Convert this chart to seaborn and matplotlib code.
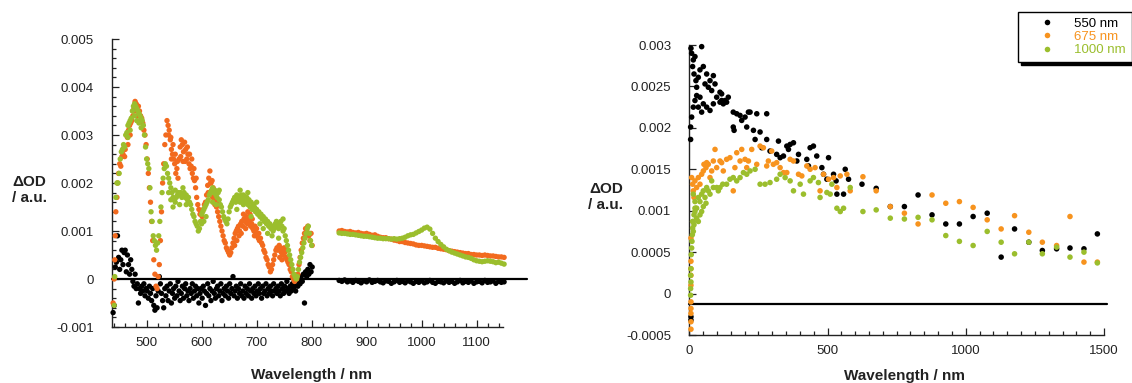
import matplotlib
matplotlib.use("Agg")
import matplotlib.pyplot as plt
import seaborn as sns
from matplotlib.lines import Line2D
from matplotlib.ticker import MultipleLocator

# ---------------- data (values in 1e-3 OD units) ----------------
left_black = [(439,-0.70),(441,-0.55),(443,0.25),(445,0.35),(447,0.90),(449,0.45),(451,0.20),(453,0.40),(455,0.60),(457,0.30),
 (459,0.55),(461,0.60),(463,0.15),(465,0.50),(467,0.30),(469,0.10),(471,0.40),(473,0.20),(475,-0.05),(477,-0.15),(479,0.10),
 (481,-0.20),(483,-0.10),(485,-0.50),(487,-0.20),(489,-0.30),(491,-0.15),(493,-0.25),(495,-0.10),(497,-0.35),(499,-0.20),
 (501,-0.25),(503,-0.40),(505,-0.15),(507,-0.30),(509,-0.45),(511,-0.20),(513,-0.55),(515,-0.65),(517,-0.35),(519,-0.60),
 (521,-0.25),(523,0.05),(525,-0.10),(527,-0.30),(529,-0.45),(531,-0.60),(533,-0.20),(535,-0.35),(537,-0.15),(539,-0.45),
 (541,-0.25),(543,-0.10),(545,-0.50),(547,-0.30),(549,-0.20),(551,-0.40),(553,-0.15),(555,-0.35),(557,-0.05),(559,-0.25),
 (561,-0.45),(563,-0.30),(565,-0.15),(567,-0.40),(569,-0.20),(571,-0.10),(573,-0.35),(575,-0.25),(577,-0.45),(579,-0.20),
 (581,-0.30),(583,-0.10),(585,-0.40),(587,-0.25),(589,-0.15),(591,-0.35),(593,-0.20),(595,-0.50),(597,-0.30),(599,-0.20),
 (601,-0.40),(603,-0.15),(605,-0.25),(607,-0.55),(609,-0.30),(611,-0.10),(613,-0.35),(615,-0.20),(617,-0.45),(619,-0.25),
 (621,-0.05),(623,-0.30),(625,-0.40),(627,-0.20),(629,-0.15),(631,-0.35),(633,-0.25),(635,-0.10),(637,-0.45),(639,-0.30),
 (641,-0.20),(643,-0.35),(645,-0.15),(647,-0.25),(649,-0.40),(651,-0.10),(653,-0.30),(655,-0.20),(657,0.05),(659,-0.35),
 (661,-0.25),(663,-0.15),(665,-0.40),(667,-0.20),(669,-0.30),(671,-0.10),(673,-0.35),(675,-0.25),(677,-0.40),(679,-0.15),
 (681,-0.30),(683,-0.20),(685,-0.35),(687,-0.10),(689,-0.25),(691,-0.40),(693,-0.20),(695,-0.30),(697,-0.15),(699,-0.35),
 (701,-0.25),(703,-0.10),(705,-0.30),(707,-0.20),(709,-0.40),(711,-0.15),(713,-0.30),(715,-0.25),(717,-0.10),(719,-0.35),
 (721,-0.20),(723,-0.30),(725,-0.15),(727,-0.25),(729,-0.35),(731,-0.10),(733,-0.25),(735,-0.20),(737,-0.30),(739,-0.15),
 (741,-0.25),(743,-0.35),(745,-0.10),(747,-0.20),(749,-0.30),(751,-0.15),(753,-0.25),(755,-0.05),(757,-0.20),(759,-0.30),
 (761,-0.15),(763,-0.25),(765,-0.10),(767,-0.20),(769,-0.15),(771,-0.25),(773,-0.05),(775,-0.15),(777,0.00),(779,-0.10),
 (781,0.05),(783,-0.05),(785,0.10),(787,-0.50),(789,0.15),(791,0.05),(793,0.20),(795,0.10),(797,0.30),(799,0.15),(801,0.25),
 (850,-0.03),(855,-0.05),(860,-0.02),(865,-0.06),(870,-0.04),(875,-0.07),(880,-0.03),(885,-0.05),(890,-0.08),(895,-0.04),
 (900,-0.06),(905,-0.02),(910,-0.07),(915,-0.05),(920,-0.03),(925,-0.06),(930,-0.08),(935,-0.04),(940,-0.05),(945,-0.09),
 (950,-0.06),(955,-0.03),(960,-0.07),(965,-0.05),(970,-0.08),(975,-0.04),(980,-0.06),(985,-0.09),(990,-0.05),(995,-0.07),
 (1000,-0.04),(1005,-0.08),(1010,-0.06),(1015,-0.03),(1020,-0.07),(1025,-0.09),(1030,-0.05),(1035,-0.06),(1040,-0.08),
 (1045,-0.04),(1050,-0.07),(1055,-0.05),(1060,-0.09),(1065,-0.06),(1070,-0.03),(1075,-0.08),(1080,-0.05),(1085,-0.07),
 (1090,-0.04),(1095,-0.09),(1100,-0.06),(1105,-0.05),(1110,-0.08),(1115,-0.03),(1120,-0.07),(1125,-0.06),(1130,-0.04),
 (1135,-0.09),(1140,-0.05),(1145,-0.07),(1150,-0.06)]

left_orange = [(439,-0.50),(441,0.00),(442,0.40),(443,0.90),(444,1.40),(446,1.70),(447,2.00),(449,2.20),(451,2.40),(453,2.35),
 (455,2.55),(457,2.60),(459,2.75),(461,2.70),(463,3.00),(465,2.95),(467,3.10),(469,3.20),(471,3.25),(473,3.30),(475,3.40),
 (477,3.55),(479,3.70),(481,3.65),(483,3.60),(485,3.60),(487,3.50),(489,3.40),(491,3.35),(493,3.25),(495,3.10),(497,3.00),
 (499,2.80),(501,2.50),(503,2.20),(505,1.90),(507,1.60),(509,1.20),(511,0.80),(513,0.40),(515,0.10),(517,-0.15),(519,-0.20),
 (521,0.05),(523,0.30),(525,0.80),(527,1.40),(529,2.00),(531,2.40),(533,2.80),(535,3.00),(537,3.30),(539,3.20),(541,3.10),
 (543,2.90),(545,2.70),(547,2.60),(549,2.50),(551,2.40),(553,2.20),(555,2.30),(557,2.10),(559,2.50),(561,2.75),(563,2.90),
 (565,2.80),(567,2.65),(569,2.85),(571,2.70),(573,2.50),(575,2.60),(577,2.40),(579,2.30),(581,2.35),(583,2.20),(585,2.10),
 (587,2.05),(589,1.90),(591,1.70),(593,1.55),(595,1.45),(597,1.35),(599,1.40),(601,1.30),(603,1.45),(605,1.55),(607,1.60),
 (609,1.75),(611,1.95),(613,2.10),(615,2.25),(617,2.00),(619,2.05),(621,1.90),(623,1.80),(625,1.65),(627,1.50),(629,1.40),
 (631,1.30),(633,1.20),(635,1.10),(637,1.00),(639,0.90),(641,0.80),(643,0.75),(645,0.65),(647,0.60),(649,0.55),(651,0.50),
 (653,0.55),(655,0.65),(657,0.75),(659,0.85),(661,0.95),(663,1.00),(665,1.05),(667,1.10),(669,1.00),(671,1.15),(673,1.20),
 (675,1.10),(677,1.25),(679,1.20),(681,1.30),(683,1.15),(685,1.25),(687,1.20),(689,1.10),(691,1.15),(693,1.05),(695,1.00),
 (697,1.10),(699,0.95),(701,0.90),(703,0.85),(705,0.80),(707,0.85),(709,0.75),(711,0.70),(713,0.60),(715,0.55),(717,0.45),
 (719,0.40),(721,0.30),(723,0.25),(725,0.15),(727,0.20),(729,0.30),(731,0.40),(733,0.50),(735,0.60),(737,0.65),(739,0.60),
 (741,0.70),(743,0.65),(745,0.55),(747,0.60),(749,0.50),(751,0.55),(753,0.45),(755,0.40),(757,0.35),(759,0.30),(761,0.20),
 (763,0.15),(765,0.05),(767,0.00),(769,-0.05),(771,0.05),(773,0.00),(775,0.10),(777,0.30),(779,0.45),(781,0.60),(783,0.75),
 (785,0.85),(787,0.95),(789,1.05),(791,1.00),(793,1.10),(795,0.90),(797,0.80),(799,0.95),(801,0.70),
 (545,2.50),(548,2.80),(552,2.60),(556,2.45),(562,2.55),(566,2.45),(570,2.45),(574,2.75),(578,2.60),(582,2.50),(586,2.30),
 (590,2.10),(480,3.50),(484,3.40),(488,3.30),(470,3.00),(466,2.80),(460,2.55),(540,3.00),(544,2.95),(612,1.80),(616,2.00),
 (620,1.70),(624,1.55),(628,1.60),(660,0.70),(664,0.80),(668,0.90),(672,0.95),(676,1.35),(680,1.05),(684,1.40),(688,1.35),
 (692,1.25),(696,0.90),(700,1.05),(704,0.95),(742,0.45),(746,0.40),(750,0.65),(754,0.60),(760,0.40),
 (850,1.00),(855,1.01),(860,0.99),(865,0.98),(870,0.99),(875,0.97),(880,0.96),(885,0.97),(890,0.95),(895,0.94),(900,0.95),
 (905,0.93),(910,0.91),(915,0.92),(920,0.89),(925,0.87),(930,0.86),(935,0.86),(940,0.84),(945,0.83),(950,0.81),(955,0.80),
 (960,0.78),(965,0.78),(970,0.76),(975,0.75),(980,0.74),(985,0.73),(990,0.71),(995,0.70),(1000,0.70),(1005,0.69),
 (1010,0.68),(1015,0.67),(1020,0.66),(1025,0.66),(1030,0.64),(1035,0.63),(1040,0.62),(1045,0.61),(1050,0.59),(1055,0.58),
 (1060,0.57),(1065,0.56),(1070,0.55),(1075,0.54),(1080,0.53),(1085,0.53),(1090,0.51),(1095,0.51),(1100,0.50),(1105,0.50),
 (1110,0.49),(1115,0.50),(1120,0.49),(1125,0.48),(1130,0.48),(1135,0.47),(1140,0.46),(1145,0.46),(1150,0.45)]

left_green = [(441,-0.55),(442,0.05),(444,1.70),(446,2.00),(448,2.00),(450,2.20),(452,2.50),(454,2.65),(456,2.70),(458,2.80),
 (460,2.75),(462,3.00),(464,3.05),(466,3.20),(468,3.25),(470,3.30),(472,3.35),(474,3.50),(476,3.60),(478,3.65),(480,3.60),
 (482,3.55),(484,3.50),(486,3.45),(488,3.40),(490,3.35),(492,3.30),(494,3.20),(496,3.00),(498,2.75),(500,2.50),(502,2.40),
 (504,2.30),(506,1.90),(508,1.40),(510,1.20),(512,0.90),(514,0.80),(516,0.70),(518,0.60),(520,0.75),(522,0.90),(524,1.20),
 (526,1.50),(528,1.80),(530,2.10),(532,2.30),(534,2.40),(536,2.35),(538,2.20),(540,2.10),(542,2.00),(544,1.90),(546,1.80),
 (548,1.70),(550,1.65),(552,1.60),(554,1.70),(556,1.75),(558,1.80),(560,1.75),(562,1.80),(564,1.70),(566,1.75),(568,1.80),
 (570,1.70),(572,1.75),(574,1.65),(576,1.70),(578,1.60),(580,1.55),(582,1.45),(584,1.35),(586,1.30),(588,1.20),(590,1.15),
 (592,1.10),(594,1.00),(596,1.05),(598,1.20),(600,1.35),(602,1.40),(604,1.45),(606,1.50),(608,1.55),(610,1.60),(612,1.65),
 (614,1.75),(616,1.80),(618,1.85),(620,1.90),(622,1.80),(624,1.85),(626,1.75),(628,1.70),(630,1.80),(632,1.65),(634,1.55),
 (636,1.50),(638,1.40),(640,1.30),(642,1.25),(644,1.20),(646,1.15),(648,1.25),(650,1.40),(652,1.50),(654,1.55),(656,1.60),
 (658,1.65),(660,1.70),(662,1.60),(664,1.75),(666,1.65),(668,1.70),(670,1.60),(672,1.75),(674,1.65),(676,1.55),(678,1.70),
 (680,1.60),(682,1.70),(684,1.55),(686,1.65),(688,1.50),(690,1.60),(692,1.45),(694,1.55),(696,1.50),(698,1.40),(700,1.45),
 (702,1.35),(704,1.40),(706,1.30),(708,1.35),(710,1.25),(712,1.30),(714,1.20),(716,1.25),(718,1.15),(720,1.20),(722,1.10),
 (724,1.15),(726,1.05),(728,1.10),(730,1.00),(732,1.05),(734,1.15),(736,1.20),(738,1.10),(740,1.05),(742,1.15),(744,1.20),
 (746,1.10),(748,1.00),(750,1.05),(752,0.90),(754,0.80),(756,0.70),(758,0.60),(760,0.50),(762,0.40),(764,0.30),(766,0.20),
 (768,0.10),(770,0.05),(772,0.00),(774,0.05),(776,0.20),(778,0.35),(780,0.45),(782,0.55),(784,0.65),(786,0.75),(788,0.85),
 (790,0.95),(792,1.05),(794,1.10),(796,0.95),(798,0.80),(800,0.70),
 (478,3.40),(482,3.30),(486,3.25),(490,3.15),(470,3.10),(466,2.95),(540,1.80),(544,1.65),(548,1.50),(552,1.85),(560,1.55),
 (566,1.90),(572,1.55),(600,1.15),(604,1.20),(608,1.30),(620,1.60),(626,1.55),(632,1.85),(664,1.45),(670,1.85),(676,1.75),
 (684,1.80),(690,1.30),(700,1.60),(706,1.15),(712,1.05),(720,0.95),(728,0.90),(740,0.85),(748,1.25),
 (850,0.96),(855,0.95),(860,0.95),(865,0.94),(870,0.93),(875,0.93),(880,0.92),(885,0.91),(890,0.90),(895,0.89),(900,0.89),
 (905,0.88),(910,0.87),(915,0.86),(920,0.85),(925,0.85),(930,0.84),(935,0.84),(940,0.84),(945,0.83),(950,0.84),(955,0.83),
 (960,0.84),(965,0.85),(970,0.87),(975,0.90),(980,0.92),(985,0.93),(990,0.96),(995,0.99),(1000,1.02),(1005,1.06),
 (1010,1.08),(1015,1.04),(1020,0.95),(1025,0.85),(1030,0.78),(1035,0.72),(1040,0.67),(1045,0.62),(1050,0.59),(1055,0.56),
 (1060,0.54),(1065,0.52),(1070,0.50),(1075,0.48),(1080,0.46),(1085,0.45),(1090,0.43),(1095,0.40),(1100,0.38),(1105,0.37),
 (1110,0.36),(1115,0.37),(1120,0.38),(1125,0.37),(1130,0.36),(1135,0.34),(1140,0.35),(1145,0.33),(1150,0.31)]

right_550 = [(6,2.96),(8.5,2.90),(14.5,2.82),(20.5,2.86),(12,2.74),(17,2.65),(24,2.57),(26.6,2.49),(32.6,2.61),(38.6,2.70),
 (44.7,2.98),(50.7,2.74),(56.8,2.53),(62.8,2.65),(68.8,2.49),(74.9,2.57),(81,2.45),(87,2.63),(93,2.53),(99,2.37),(111,2.43),
 (117,2.33),(123,2.29),(14.5,2.25),(20.5,2.33),(26.6,2.39),(38.6,2.37),(50.7,2.29),(62.8,2.25),(74.9,2.21),(87,2.29),
 (32.6,2.25),(44.7,2.19),(8.5,2.13),(4.8,2.01),(4.8,1.86),(111,2.31),(117,2.41),(129,2.33),(135,2.31),(141,2.37),(159,2.19),
 (171.5,2.17),(183.6,2.15),(189.6,2.09),(201.7,2.13),(213.8,2.19),(219.8,2.19),(244,2.17),(280,2.17),(159,2.01),(162,1.97),
 (207.7,2.01),(232,1.97),(256,1.95),(238,1.86),(262,1.76),(280,1.86),(292,1.72),(316,1.68),(322.5,1.84),(352.7,1.78),
 (358.7,1.74),(364.7,1.80),(376.8,1.82),(328.5,1.64),(340.6,1.66),(389,1.60),(395,1.68),(425,1.62),(431,1.54),(437,1.76),
 (449,1.78),(461,1.66),(479.5,1.52),(485.5,1.44),(497.6,1.38),(503.6,1.64),(521.7,1.44),(531,1.36),(533.8,1.20),(558,1.20),
 (564,1.50),(576,1.38),(6,-0.28),(6,-0.32),
 (624.6,1.32),(676,1.27),(727,1.05),(778,1.05),(827.5,1.19),(878,0.95),(927.7,0.84),(977,0.84),(1026.6,0.93),(1077.5,0.97),
 (1128,0.44),(1176.5,0.78),(1228,0.62),(1277,0.52),(1328.6,0.54),(1377,0.55),(1427.5,0.54),(1476,0.72)]

right_675 = [(6,0.39),(6,0.30),(6,0.22),(6,0.10),(6,-0.10),(6,-0.18),(6,-0.24),(6,-0.34),(6,-0.43),(6,0.67),
 (8.5,1.40),(12,1.32),(14.5,1.24),(17,1.16),(20.5,1.36),(26.6,1.28),(32.6,1.40),(38.6,1.32),(44.7,1.44),(50.7,1.48),
 (53,1.56),(60.4,1.52),(62.8,1.58),(68.8,1.56),(74.9,1.40),(81,1.48),(87,1.60),(93,1.74),(99,1.52),(111,1.60),(117,1.58),
 (123,1.48),(135,1.62),(147,1.64),(159,1.24),(165,1.52),(171.5,1.70),(183.6,1.60),(189.6,1.74),(201.7,1.62),(207.7,1.52),
 (213.8,1.60),(225.8,1.74),(244,1.56),(256,1.78),(268,1.76),(280,1.54),(286,1.60),(298,1.72),(304,1.56),(316,1.58),
 (328.5,1.52),(340.6,1.46),(352.7,1.46),(364.7,1.62),(376.8,1.60),(395,1.44),(407,1.42),(425,1.54),(437,1.50),(455,1.52),
 (473,1.24),(485.5,1.44),(503.6,1.38),(521.7,1.40),(533.8,1.28),(546,1.42),(570,1.44),(582,1.24),
 (628,1.41),(676,1.24),(727,1.05),(778,0.97),(827.5,0.84),(878,1.19),(927.7,1.09),(977,1.11),(1026.6,1.04),(1077.5,0.89),
 (1128,0.78),(1176.5,0.94),(1228,0.74),(1277,0.62),(1328.6,0.58),(1377,0.93),(1427.5,0.38),(1476,0.38)]

right_1000 = [(4.8,-0.02),(4.8,0.06),(6,0.14),(4.8,0.22),(6,0.30),(7,0.47),(8.5,0.55),(9.7,0.63),(11,0.71),(12,0.79),
 (14.5,0.87),(17,0.95),(20.5,1.03),(24,1.03),(14.5,1.20),(20.5,1.11),(26.6,1.03),(32.6,1.16),(38.6,1.11),(44.7,1.20),
 (50.7,1.24),(56.8,1.16),(62.8,1.28),(68.8,1.24),(74.9,1.20),(81,1.36),(87,1.28),(99,1.28),(20.5,0.99),(26.6,0.91),
 (32.6,0.87),(38.6,0.95),(44.7,0.99),(50.7,1.05),(60.4,1.09),(12,0.87),(14.5,0.75),(17,0.83),(105,1.24),(111,1.28),
 (121,1.32),(135,1.32),(147,1.38),(159,1.40),(171.5,1.36),(183.6,1.40),(195.7,1.46),(207.7,1.44),(219.8,1.48),(238,1.50),
 (256,1.32),(274,1.32),(292,1.34),(316,1.38),(328.5,1.44),(346.6,1.40),(364.7,1.36),(376.8,1.24),(401,1.32),(413,1.20),
 (437,1.36),(449,1.40),(467,1.34),(473,1.16),(497.6,1.22),(509.7,1.20),(515.7,1.32),(533.8,1.03),(546,0.99),(558,1.03),
 (582,1.28),
 (628,0.99),(676,1.01),(727,0.91),(778,0.90),(827.5,0.92),(878,0.89),(927.7,0.70),(977,0.63),(1026.6,0.58),(1077.5,0.75),
 (1128,0.62),(1176.5,0.48),(1228,0.62),(1277,0.48),(1328.6,0.56),(1377,0.44),(1427.5,0.50),(1476,0.37)]

left_yticks = [-0.001, 0, 0.001, 0.002, 0.003, 0.004, 0.005]
left_yticklabels = ["-0.001", "0", "0.001", "0.002", "0.003", "0.004", "0.005"]
left_xticks = [500, 600, 700, 800, 900, 1000, 1100]
right_yticks = [-0.0005, 0, 0.0005, 0.001, 0.0015, 0.002, 0.0025, 0.003]
right_yticklabels = ["-0.0005", "0", "0.0005", "0.001", "0.0015", "0.002", "0.0025", "0.003"]
right_xticks = [0, 500, 1000, 1500]
legend_labels = ["550 nm", "675 nm", "1000 nm"]
right_baseline = -0.00013
SCALE = 1e-3

BLACK = "#000000"
ORANGE_L = "#F26A1E"
ORANGE_R = "#F7931E"
GREEN = "#9BBE2D"

# ---------------- style ----------------
sns.set_style("ticks")
plt.rcParams["font.family"] = ["Liberation Sans", "DejaVu Sans"]

W, H = 1132, 383
fig = plt.figure(figsize=(W / 100, H / 100), dpi=100)
axL = fig.add_axes([112 / W, 1 - 327 / H, (503 - 112) / W, (327 - 39) / H])
axR = fig.add_axes([689.3 / W, 1 - 335 / H, (1104 - 689.3) / W, (335 - 45) / H])


def scat(ax, data, color, s):
    xs = [p[0] for p in data]
    ys = [p[1] * SCALE for p in data]
    sns.scatterplot(x=xs, y=ys, ax=ax, color=color, s=s, edgecolor="none",
                    linewidth=0, legend=False, zorder=3, clip_on=False)


# left panel
axL.axhline(0, xmin=0, xmax=1.061, color="black", lw=1.6, zorder=2, clip_on=False)
scat(axL, left_black, BLACK, 15)
scat(axL, left_orange, ORANGE_L, 15)
scat(axL, left_green, GREEN, 15)
axL.set_xlim(437, 1148)
axL.set_ylim(-0.001, 0.005)
axL.set_xticks(left_xticks)
axL.set_xticklabels([str(v) for v in left_xticks])
axL.xaxis.set_minor_locator(MultipleLocator(20))
axL.set_yticks(left_yticks)
axL.set_yticklabels(left_yticklabels)
axL.yaxis.set_minor_locator(MultipleLocator(0.0002))

# right panel
axR.axhline(right_baseline, xmin=0, xmax=1.0065, color="black", lw=1.6, zorder=2, clip_on=False)
scat(axR, right_550, BLACK, 16)
scat(axR, right_675, ORANGE_R, 16)
scat(axR, right_1000, GREEN, 16)
axR.set_xlim(0, 1500)
axR.set_ylim(-0.0005, 0.003)
axR.set_xticks(right_xticks)
axR.set_xticklabels([str(v) for v in right_xticks])
axR.xaxis.set_minor_locator(MultipleLocator(50))
axR.set_yticks(right_yticks)
axR.set_yticklabels(right_yticklabels)

for ax in (axL, axR):
    sns.despine(ax=ax)
    for sp in ("left", "bottom"):
        ax.spines[sp].set_linewidth(1.0)
        ax.spines[sp].set_color("#222222")
    ax.tick_params(axis="both", which="major", direction="in", length=5, width=0.9,
                   color="#222222", labelsize=9.5, labelcolor="#222222")
    ax.tick_params(axis="both", which="minor", direction="in", length=3, width=0.9, color="#222222")
    ax.tick_params(axis="y", which="both", pad=13)
    ax.tick_params(axis="x", which="both", pad=7)
    ax.set_xlabel("Wavelength / nm", fontsize=11, fontweight="bold", color="#222222")
    ax.set_ylabel("ΔOD\n/ a.u.", fontsize=11, fontweight="bold", rotation=0,
                  color="#222222", ha="center", va="center", linespacing=1.15)
    ax.patch.set_alpha(0)

axL.xaxis.set_label_coords(0.51, -0.142)
axL.yaxis.set_label_coords(-0.212, 0.476)
axR.xaxis.set_label_coords(0.52, -0.118)
axR.yaxis.set_label_coords(-0.201, 0.476)

handles = [Line2D([], [], marker="o", linestyle="none", markersize=4,
                  markerfacecolor=c, markeredgecolor="none", color=c)
           for c in (BLACK, ORANGE_R, GREEN)]
leg = axR.legend(handles, legend_labels, loc="upper left",
                 bbox_to_anchor=(1018 / W, 1 - 12 / H), bbox_transform=fig.transFigure,
                 borderaxespad=0, frameon=True, fancybox=False,
                 shadow={"color": "black", "alpha": 1.0},
                 fontsize=9.5, handlelength=3.6, handletextpad=0.25, labelspacing=0.08,
                 borderpad=0.42, numpoints=1, labelcolor="markerfacecolor")
leg.get_frame().set_edgecolor("black")
leg.get_frame().set_linewidth(1.0)
leg.get_frame().set_facecolor("white")

fig.savefig("out.png", dpi=100)
